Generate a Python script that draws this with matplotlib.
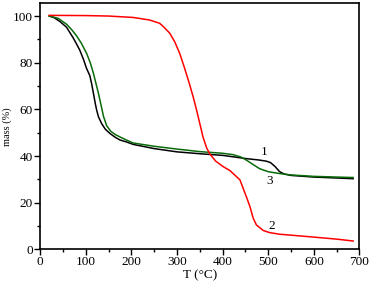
# TGA curves, samples 1-3
import matplotlib
matplotlib.use("Agg")
import matplotlib.pyplot as plt
from matplotlib.ticker import MultipleLocator

plt.rcParams['font.family'] = ['Liberation Serif', 'DejaVu Serif']

# --- data ---
t1 = [20, 30, 44, 58, 66, 73, 80, 87, 95, 102, 109, 113, 117, 121, 124, 128, 135,
      143, 153, 165, 175, 190, 204, 250, 300, 350, 400, 452, 480, 496, 505, 515,
      525, 535, 550, 600, 650, 686]
m1 = [100, 99.4, 97.6, 95.2, 92.7, 90.5, 88, 85.4, 81.5, 77.5, 74.5, 71, 66.8,
      62.5, 59.7, 56.8, 53.9, 51.5, 49.7, 48, 46.9, 46, 45, 43.2, 41.8, 41, 40.3,
      38.9, 38.3, 37.8, 37.2, 35.5, 33.3, 32.3, 31.7, 31, 30.6, 30.3]

t2 = [20, 100, 150, 204, 240, 262, 270, 284, 295, 306, 317, 328, 336, 343, 350,
      357, 365, 372, 385, 401, 416, 438, 452, 460, 467, 474, 489, 503, 525, 550,
      598, 650, 686]
m2 = [100.3, 100.2, 100, 99.4, 98.3, 96.9, 95.5, 92.7, 89, 84, 77.5, 70.5, 65,
      59.7, 54, 48.2, 43.5, 40.9, 37.8, 35.5, 33.8, 29.8, 22.6, 18.3, 13.4, 10.5,
      8.1, 7.2, 6.5, 6.1, 5.3, 4.4, 3.6]

t3 = [20, 40, 58, 70, 80, 90, 102, 110, 117, 122, 128, 134, 139, 146, 155, 165,
      175, 190, 204, 250, 300, 350, 400, 423, 440, 452, 465, 481, 500, 525, 550,
      600, 650, 686]
m3 = [100, 99, 96.5, 94, 91.5, 88.5, 84, 80, 75.4, 71.5, 66.8, 61.5, 57, 53,
      50.6, 49.2, 48.2, 46.8, 45.6, 44.2, 43, 41.9, 41.2, 40.6, 39.6, 38.3, 36.6,
      34.6, 33.3, 32.5, 31.9, 31.3, 31, 30.8]

curve_labels = ["1", "2", "3"]
label_pos = [(490, 41.8), (507, 9.9), (503, 29.3)]

# --- figure ---
fig = plt.figure(figsize=(3.71, 2.87), dpi=100)
ax = fig.add_axes([0.108, 0.131, 0.861, 0.857])

ax.plot(t1, m1, color='black', lw=1.1)
ax.plot(t3, m3, color='#0a6b0a', lw=1.1)
ax.plot(t2, m2, color='red', lw=1.1)

for lab, (x, y) in zip(curve_labels, label_pos):
    ax.text(x, y, lab, fontsize=9.5, ha='center', va='center')

ax.set_xlim(0, 700)
ax.set_ylim(0, 105.4)
ax.xaxis.set_major_locator(MultipleLocator(100))
ax.xaxis.set_minor_locator(MultipleLocator(50))
ax.yaxis.set_major_locator(MultipleLocator(20))
ax.yaxis.set_minor_locator(MultipleLocator(10))
ax.tick_params(which='major', direction='out', length=4, width=1, labelsize=9.5, pad=1)
ax.tick_params(which='minor', direction='out', length=2, width=1)
for s in ax.spines.values():
    s.set_linewidth(1.2)

ax.set_xlabel("T (°C)", fontsize=9.5, labelpad=1)
ax.set_ylabel("mass (%)", fontsize=7.5, labelpad=1)

fig.savefig("out.png", dpi=100)
